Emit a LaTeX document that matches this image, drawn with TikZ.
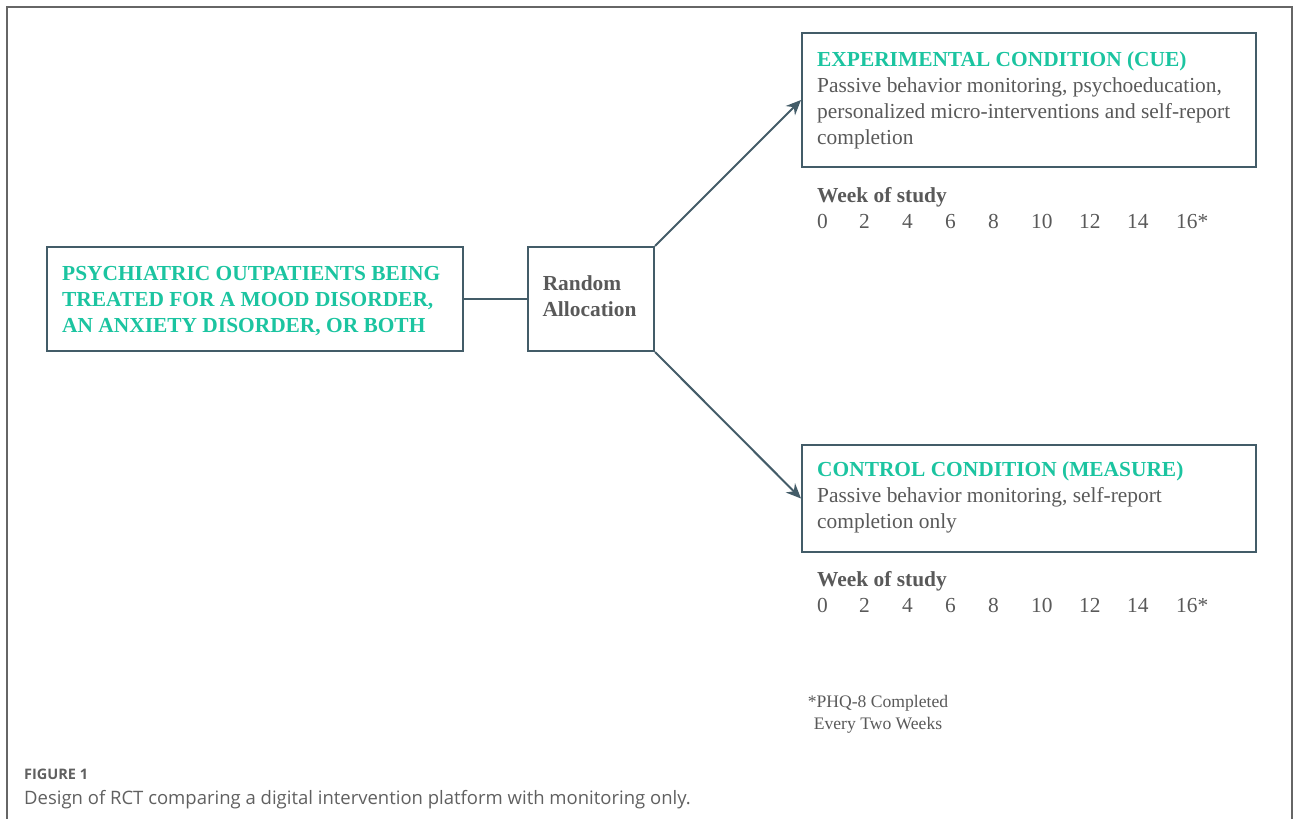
\documentclass[tikz,border=0pt]{standalone}
\usepackage{fontspec}
\setmainfont{Liberation Serif}
\newfontfamily\capfont{Open Sans}
\usetikzlibrary{arrows.meta}
\definecolor{teal}{HTML}{1BC4A0}
\definecolor{txtgray}{HTML}{595959}
\definecolor{boxc}{HTML}{435C68}
\definecolor{framec}{HTML}{666666}
\definecolor{capgray}{HTML}{606060}
\tikzset{
  box/.style={draw=boxc, line width=2pt, minimum width=0pt, minimum height=0pt, inner sep=0pt, anchor=north west},
  ttl/.style={anchor=base west, inner sep=0pt, text=teal, font=\fontsize{21.4}{26}\selectfont\bfseries},
  body/.style={anchor=base west, inner sep=0pt, text=txtgray, font=\fontsize{21.4}{26}\selectfont},
  bodyb/.style={anchor=base west, inner sep=0pt, text=txtgray, font=\fontsize{21.4}{26}\selectfont\bfseries},
  wk/.style={anchor=base west, inner sep=0pt, text=txtgray, font=\fontsize{21.4}{26}\selectfont},
  foot/.style={anchor=base, inner sep=0pt, text=txtgray, font=\fontsize{17.6}{20}\selectfont},
  conn/.style={draw=boxc, line width=2pt},
  arr/.style={draw=boxc, line width=2pt, -{Stealth[length=15pt,width=13pt]}},
}
\begin{document}
\begin{tikzpicture}[x=1pt,y=-1pt]
\useasboundingbox (0,0) rectangle (1293,819);
% outer frame
\draw[framec, line width=1.5pt] (7,819) -- (7,7) -- (1292,7) -- (1292,819);

% boxes
\node[box, minimum width=416pt, minimum height=104pt] (A) at (46,246) {};
\node[box, minimum width=126pt, minimum height=104pt] (B) at (527,246) {};
\node[box, minimum width=454pt, minimum height=134pt] (C) at (801,32) {};
\node[box, minimum width=454pt, minimum height=107pt] (D) at (801,444) {};

% box A text
\node[ttl] (a1) at (62,280) {PSYCHIATRIC OUTPATIENTS BEING};
\node[ttl] (a2) at (62,306) {TREATED FOR A MOOD DISORDER,};
\node[ttl] (a3) at (62,332) {AN ANXIETY DISORDER, OR BOTH};

% box B text
\node[bodyb, anchor=base] (b1) at (582,290) {Random};
\node[bodyb, anchor=base] (b2) at (589.5,316) {Allocation};

% box C text
\node[ttl] (c0) at (817,66) {EXPERIMENTAL CONDITION (CUE)};
\node[body] (c1) at (817,92) {Passive behavior monitoring, psychoeducation,};
\node[body] (c2) at (817,118) {personalized micro-interventions and self-report};
\node[body] (c3) at (817,144) {completion};

% box D text
\node[ttl] (d0) at (817,476) {CONTROL CONDITION (MEASURE)};
\node[body] (d1) at (817,502) {Passive behavior monitoring, self-report};
\node[body] (d2) at (817,528) {completion only};

% weeks
\node[bodyb] (w1) at (817,202) {Week of study};
\node[bodyb] (w2) at (817,586) {Week of study};
\foreach \n/\x in {0/817,2/859,4/902,6/945,8/988,10/1031,12/1079,14/1127,16*/1176}{
  \node[wk] (u\x) at (\x,228) {\n};
  \node[wk] (l\x) at (\x,612) {\n};
}

% footnote
\node[foot] (f1) at (878,707) {*PHQ-8 Completed};
\node[foot] (f2) at (878,729) {Every Two Weeks};

% caption
\node[anchor=base west, inner sep=0pt, text=capgray, font=\capfont\bfseries\fontsize{14.5}{16}\selectfont] (cap1) at (24,779) {FIGURE 1};
\node[anchor=base west, inner sep=0pt, text=capgray, font=\capfont\fontsize{18.5}{20}\selectfont] (cap2) at (24,804) {Design of RCT comparing a digital intervention platform with monitoring only.};

% connectors
\draw[conn] (A.east) -- (B.west);
\draw[arr] (B.north east) -- (C.west);
\draw[arr] (B.south east) -- (D.west);
\end{tikzpicture}
\end{document}
